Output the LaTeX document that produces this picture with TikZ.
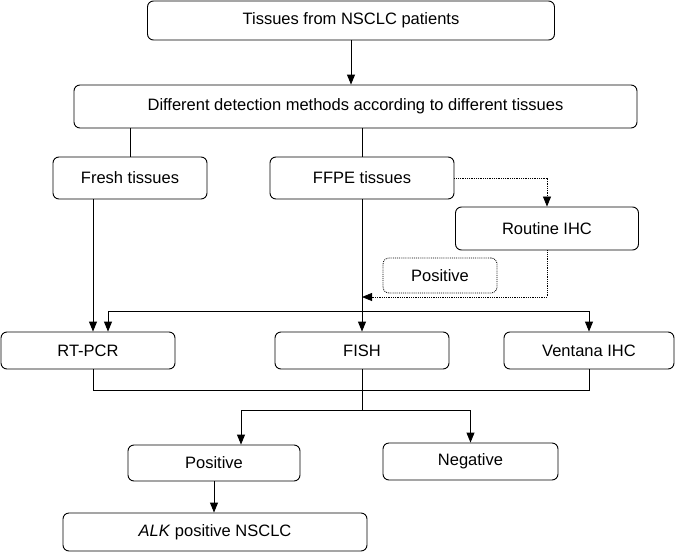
\documentclass[tikz,border=0pt]{standalone}
\usepackage{fontspec}
\setmainfont{Liberation Sans}
\usetikzlibrary{arrows.meta,calc}
\begin{document}
\begin{tikzpicture}[x=1pt,y=-1pt,
  box/.style={draw,rounded corners=6pt,line width=0.9pt,inner sep=0pt,font=\fontsize{16.5}{19}\selectfont},
  dbox/.style={box,densely dotted,line width=0.8pt},
  conn/.style={line width=0.9pt},
  arr/.style={conn,-{Triangle[width=8pt,length=10pt]}},
  dline/.style={densely dotted,line width=0.8pt,-{Triangle[width=8pt,length=10pt]}}]
\useasboundingbox (0,0) rectangle (675,552);
\node[box,minimum width=407pt,minimum height=39pt] (tissues) at (351,20.5) {Tissues from NSCLC patients};
\node[box,minimum width=563pt,minimum height=43pt] (diff) at (355.5,106.5) {Different detection methods according to different tissues};
\node[box,minimum width=154pt,minimum height=42pt] (fresh) at (130,178) {Fresh tissues};
\node[box,minimum width=184pt,minimum height=42pt] (ffpe) at (362,178) {FFPE tissues};
\node[box,minimum width=183pt,minimum height=43pt] (routine) at (547,228.5) {Routine IHC};
\node[dbox,minimum width=114pt,minimum height=35pt] (posd) at (440,275.5) {Positive};
\node[box,minimum width=174pt,minimum height=37pt] (rtpcr) at (88,350.5) {RT-PCR};
\node[box,minimum width=174pt,minimum height=37pt] (fish) at (362,350.5) {FISH};
\node[box,minimum width=170pt,minimum height=37pt] (ventana) at (589,350.5) {Ventana IHC};
\node[box,minimum width=172pt,minimum height=36pt] (pos) at (214,463) {Positive};
\node[box,minimum width=175pt,minimum height=37pt] (neg) at (470.5,461.5) {Negative};
\node[box,minimum width=304pt,minimum height=38pt] (alk) at (215,532) {\textit{ALK} positive NSCLC};
\coordinate (j) at (362,297);
\coordinate (hr) at (589,311);
\coordinate (b) at (362,390);
\coordinate (s) at (362,410);
\draw[arr] (tissues.south) -- (tissues.south |- diff.north);
\draw[conn] (fresh.north |- diff.south) -- (fresh.north);
\draw[conn] (ffpe.north |- diff.south) -- (ffpe.north);
\draw[dline] (ffpe.east) -| (routine.north);
\draw[dline] (routine.south) |- (j);
\draw[arr] (ffpe.south) -- (fish.north);
\draw[arr] ([xshift=5pt]fresh.south -| rtpcr.north) -- ([xshift=5pt]rtpcr.north);
\draw[arr] (hr) -| ([xshift=20pt]rtpcr.north);
\draw[arr] (hr) -- (ventana.north);
\draw[conn] ([xshift=5pt]rtpcr.south) |- (ventana.south |- b) -- (ventana.south);
\draw[conn] (fish.south) -- (s);
\draw[arr] (s) -| ([xshift=27pt]pos.north);
\draw[arr] (s) -| (neg.north);
\draw[arr] (pos.south) -- (pos.south |- alk.north);
\end{tikzpicture}
\end{document}
